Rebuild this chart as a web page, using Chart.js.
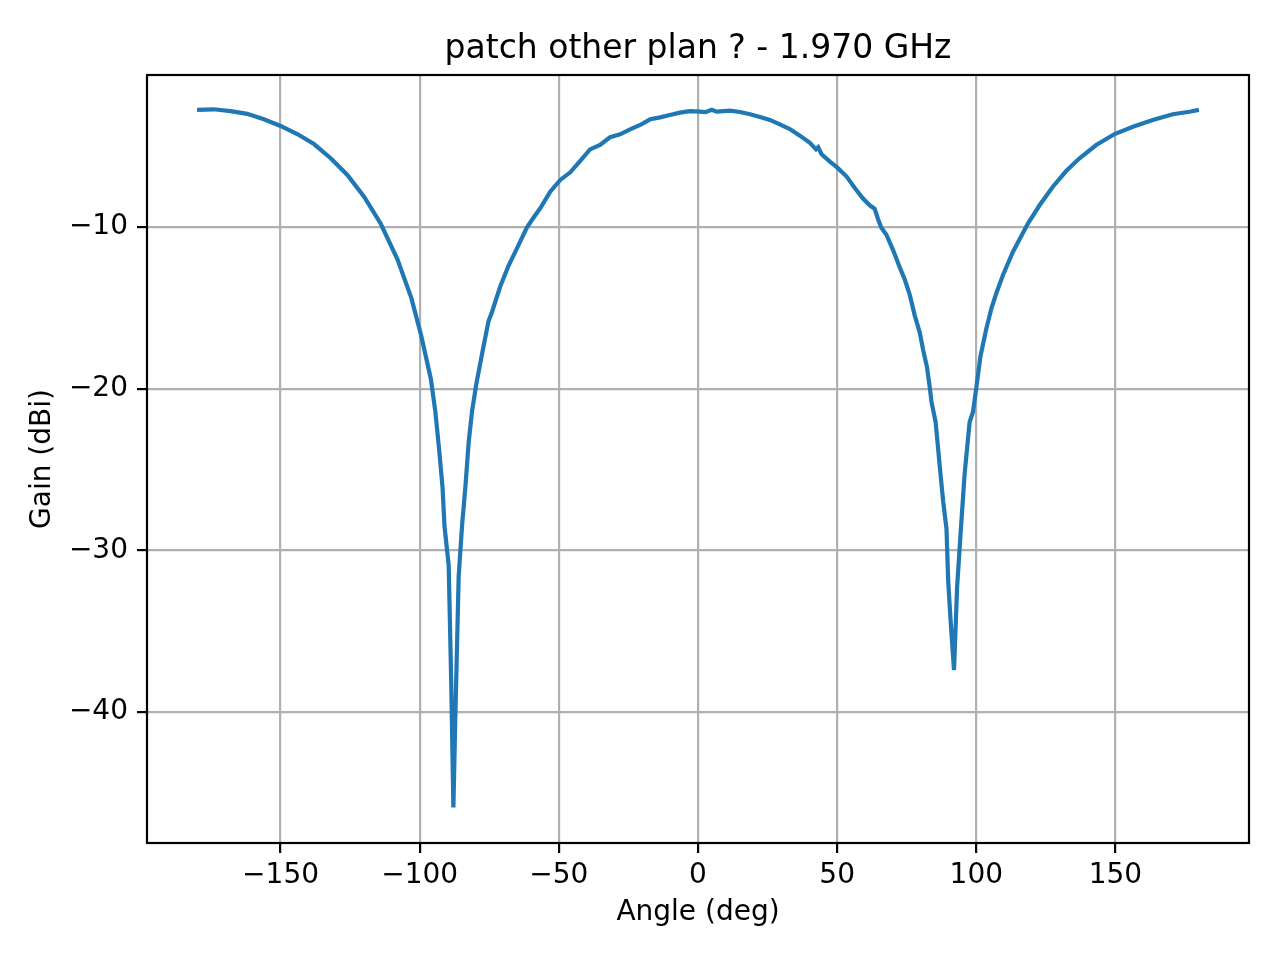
<!DOCTYPE html>
<html lang="en">
<head>
    <meta charset="UTF-8">
    <title>patch other plan ? - 1.970 GHz</title>
    <style>
        html, body { margin: 0; padding: 0; background: #fff; }
        #wrap { width: 1280px; height: 960px; position: relative; }
    </style>
</head>
<body>
    <div id="wrap">
        <canvas id="gainChart"></canvas>
    </div>

    <script src="https://cdn.jsdelivr.net/npm/chart.js"></script>

    <script>
    // values
    const angles = [
        -180, -174, -168, -162, -156, -150, -144, -138, -132, -126,
        -120, -114, -108, -103, -99.5, -96, -94.4, -93, -91.8, -91.1,
        -89.6, -89.3, -88.7, -87.9, -87.2, -86, -84.8, -83.6, -82.4, -81.2,
        -79.7, -77.6, -75.3, -74, -71.1, -68.1, -65.1, -61.5, -59.7, -56.7,
        -53.1, -49.5, -45.9, -42.4, -38.8, -35.2, -31.6, -28, -24.4, -20.8,
        -17.2, -13.6, -10.1, -6.5, -2.9, 0.7, 2.7, 4.9, 6.7, 11.5,
        15.1, 18.7, 22.3, 25.8, 29.4, 33, 36.6, 40.2, 42.4, 43.2,
        44.4, 47.4, 50.1, 53.4, 56.4, 59.3, 61.7, 63.5, 64.7, 65.9,
        67.7, 70.1, 72.5, 74.3, 76.1, 77.9, 79.7, 80.9, 82.3, 83.3,
        83.9, 85.4, 86.9, 88.1, 89.3, 89.9, 90.8, 92, 93.1, 94.3,
        95.8, 97.6, 98.8, 100, 101.5, 103.6, 105.5, 107.2, 109.6, 113.2,
        118.6, 122.8, 127.5, 132.3, 137.1, 143.1, 149.7, 156.3, 163.4, 170.6,
        176.6, 180
    ];
    const gains = [
        -2.76, -2.72, -2.83, -3.0, -3.34, -3.75, -4.25, -4.87, -5.75, -6.78,
        -8.13, -9.8, -12.0, -14.4, -16.7, -19.4, -21.4, -23.8, -26.1, -28.5,
        -30.9, -33.2, -38.0, -45.9, -40.3, -31.6, -28.5, -26.1, -23.3, -21.4,
        -19.75, -17.85, -15.84, -15.24, -13.7, -12.4, -11.34, -10.04, -9.57, -8.84,
        -7.82, -7.09, -6.62, -5.92, -5.2, -4.93, -4.45, -4.27, -3.96, -3.69,
        -3.34, -3.22, -3.07, -2.93, -2.84, -2.87, -2.9, -2.75, -2.87, -2.81,
        -2.89, -3.03, -3.2, -3.38, -3.65, -3.94, -4.35, -4.79, -5.2, -5.07,
        -5.5, -5.96, -6.33, -6.88, -7.6, -8.24, -8.66, -8.88, -9.52, -10.05,
        -10.48, -11.43, -12.5, -13.25, -14.2, -15.48, -16.54, -17.6, -18.68, -19.96,
        -20.8, -22.08, -24.85, -26.98, -28.68, -31.88, -34.43, -37.4, -32.3, -29.1,
        -25.3, -22.08, -21.44, -19.96, -18.0, -16.3, -15.0, -14.1, -12.97, -11.53,
        -9.77, -8.64, -7.51, -6.54, -5.75, -4.93, -4.25, -3.8, -3.38, -3.03,
        -2.87, -2.76
    ];
    const xTicks = [-150, -100, -50, 0, 50, 100, 150];
    const yTicks = [-40, -30, -20, -10];

    const minus = v => String(v).replace('-', '\u2212');

    // full box around the plot (like matplotlib spines), title centred on the axes
    const frame = {
        id: 'frame',
        afterLayout(chart) {
            if (chart.titleBlock) {
                chart.titleBlock.left = chart.chartArea.left;
                chart.titleBlock.right = chart.chartArea.right;
            }
        },
        afterDatasetsDraw(chart) {
            const a = chart.chartArea, c = chart.ctx;
            c.save();
            c.strokeStyle = '#000';
            c.lineWidth = 2.2;
            c.strokeRect(a.left, a.top, a.right - a.left, a.bottom - a.top);
            c.restore();
        }
    };

    const font = { family: 'DejaVu Sans', size: 28 };

    new Chart(document.getElementById('gainChart'), {
        type: 'line',
        data: {
            datasets: [{
                data: angles.map((a, i) => ({ x: a, y: gains[i] })),
                borderColor: '#1f77b4',
                borderWidth: 4.2,
                pointRadius: 0,
                tension: 0,
                fill: false
            }]
        },
        options: {
            responsive: true,
            maintainAspectRatio: false,
            animation: false,
            layout: { padding: { left: 0, right: 31, top: 0, bottom: 0 } },
            plugins: {
                legend: { display: false },
                tooltip: { enabled: false },
                title: {
                    display: true,
                    text: 'patch other plan ? - 1.970 GHz',
                    color: '#000',
                    font: { family: 'DejaVu Sans', size: 33, weight: 'normal' },
                    padding: { top: 30, bottom: 5.4 }
                }
            },
            scales: {
                x: {
                    type: 'linear',
                    min: -198,
                    max: 198,
                    afterBuildTicks: s => { s.ticks = xTicks.map(v => ({ value: v })); },
                    afterFit: s => { s.height = 117; },
                    ticks: { color: '#000', font: font, padding: 6, maxRotation: 0, callback: minus },
                    grid: { color: '#b0b0b0', lineWidth: 2.2, tickColor: '#000', tickLength: 10, tickWidth: 2.2 },
                    border: { display: false },
                    title: { display: true, text: 'Angle (deg)', color: '#000', font: font, padding: { top: 0, bottom: 30 } }
                },
                y: {
                    min: -48.1,
                    max: -0.6,
                    afterBuildTicks: s => { s.ticks = yTicks.map(v => ({ value: v })); },
                    afterFit: s => { s.width = 147; },
                    ticks: { color: '#000', font: font, padding: 9, callback: minus },
                    grid: { color: '#b0b0b0', lineWidth: 2.2, tickColor: '#000', tickLength: 10, tickWidth: 2.2 },
                    border: { display: false },
                    title: { display: true, text: 'Gain (dBi)', color: '#000', font: font, padding: { top: 25.5, bottom: 0 } }
                }
            }
        },
        plugins: [frame]
    });
    </script>
</body>
</html>
